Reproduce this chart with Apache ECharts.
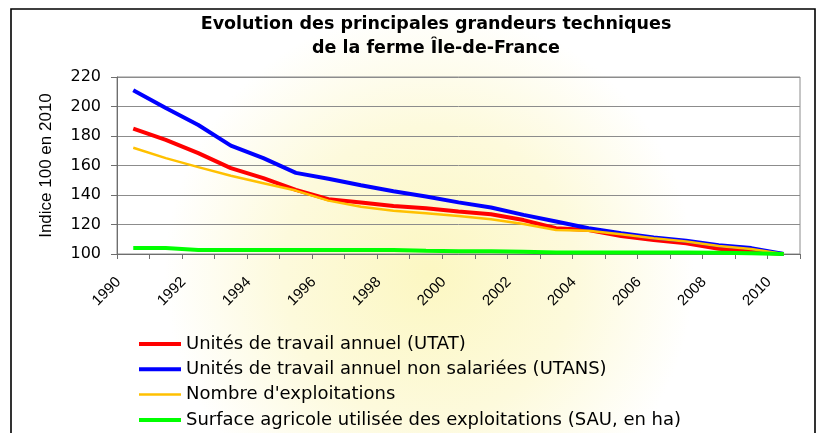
<!DOCTYPE html>
<html>
<head>
<meta charset="utf-8">
<script src="https://cdn.jsdelivr.net/npm/echarts@6/dist/echarts.min.js"></script>
<style>
html,body{margin:0;padding:0;background:#fff;}
#chart{width:820px;height:433px;}
</style>
</head>
<body>
<div id="chart"></div>
<script>
const years = ['1990','1991','1992','1993','1994','1995','1996','1997','1998','1999','2000','2001','2002','2003','2004','2005','2006','2007','2008','2009','2010'];
const utat  = [185, 177.4, 168.4, 158.2, 151.4, 143.5, 137.1, 134.9, 132.6, 131, 128.8, 127, 123, 117.5, 116.3, 112.2, 109.5, 107.2, 103.6, 101.6, 100];
const utans = [211, 199, 187.5, 173.5, 165, 155, 151, 146.6, 142.5, 139, 135, 131.5, 126.5, 122, 117.5, 114, 111.2, 109, 106, 104, 100];
const expl  = [172, 165, 158.9, 153, 148, 143, 136.2, 132.1, 129.4, 127.6, 125.8, 123.5, 120.4, 116.3, 115.8, 113.4, 110.6, 108.4, 105.4, 103.4, 100];
const sau   = [104, 104, 102.7, 102.7, 102.7, 102.7, 102.7, 102.7, 102.7, 102.2, 101.8, 101.8, 101.6, 101, 101, 101, 101, 101, 100.8, 100.5, 100];
const seriesNames = ['Unités de travail annuel (UTAT)','Unités de travail annuel non salariées (UTANS)',"Nombre d'exploitations",'Surface agricole utilisée des exploitations (SAU, en ha)'];
const seriesColors = ['#ff0000','#0000ff','#ffc000','#00ff00'];
const titleText = 'Evolution des principales grandeurs techniques\nde la ferme Île-de-France';
const yAxisName = 'Indice 100 en 2010';

const FONT = '"Liberation Sans", Arial, sans-serif';
const WIDE = '"DejaVu Sans", sans-serif';
const widths = [4, 4, 2.5, 4];
const chart = echarts.init(document.getElementById('chart'), null, {renderer:'canvas'});
chart.setOption({
  animation:false,
  backgroundColor:'#ffffff',
  graphic:[
    {type:'rect', z:-10, silent:true, shape:{x:11, y:9, width:804, height:440},
     style:{fill:{type:'radial', x:0.52, y:0.6, r:0.6, colorStops:[{offset:0,color:'#fcf7c2'},{offset:0.55,color:'#fdfadc'},{offset:1,color:'#ffffff'}]},
            stroke:'#000', lineWidth:1.6}}
  ],
  title:{
    text:titleText, left:431, top:7, textAlign:'center',
    textStyle:{fontFamily:WIDE, fontSize:17.5, fontWeight:'bold', color:'#000', lineHeight:24}
  },
  grid:{left:117, right:20, top:77, bottom:179, show:true, borderColor:'#8c8c8c', borderWidth:1, backgroundColor:'transparent'},
  legend:{
    orient:'vertical', left:137, top:335, padding:0, itemWidth:42, itemHeight:18, itemGap:7.3,
    height:100,
    itemStyle:{opacity:0},
    textStyle:{fontFamily:WIDE, fontSize:18, lineHeight:18, color:'#000'},
    data:seriesNames.map((n,i)=>({name:n, lineStyle:{width:widths[i], color:seriesColors[i]}}))
  },
  xAxis:{
    type:'category', data:years, boundaryGap:true,
    axisLine:{lineStyle:{color:'#6e6e6e', width:1}},
    axisTick:{show:true, interval:0, length:5, lineStyle:{color:'#6e6e6e'}},
    axisLabel:{interval:1, rotate:45, margin:11, formatter:function(v){return v + '     ';}, fontFamily:FONT, fontSize:15, color:'#000'},
    splitLine:{show:false}
  },
  yAxis:{
    type:'value', min:100, max:220, interval:20,
    name:yAxisName, nameLocation:'middle', nameGap:62, nameRotate:90,
    nameTextStyle:{fontFamily:FONT, fontSize:17, color:'#000'},
    axisLine:{show:true, lineStyle:{color:'#6e6e6e'}},
    axisTick:{show:true, length:6, lineStyle:{color:'#6e6e6e'}},
    axisLabel:{fontFamily:WIDE, fontSize:16, color:'#000', margin:16},
    splitLine:{lineStyle:{color:'#8c8c8c', width:1}}
  },
  series:[
    {name:seriesNames[0], type:'line', data:utat, symbol:'none', lineStyle:{color:seriesColors[0], width:widths[0]}, itemStyle:{color:seriesColors[0]}},
    {name:seriesNames[1], type:'line', data:utans, symbol:'none', lineStyle:{color:seriesColors[1], width:widths[1]}, itemStyle:{color:seriesColors[1]}},
    {name:seriesNames[2], type:'line', data:expl, symbol:'none', lineStyle:{color:seriesColors[2], width:widths[2]}, itemStyle:{color:seriesColors[2]}},
    {name:seriesNames[3], type:'line', data:sau, symbol:'none', lineStyle:{color:seriesColors[3], width:widths[3]}, itemStyle:{color:seriesColors[3]}}
  ]
});
</script>
</body>
</html>
